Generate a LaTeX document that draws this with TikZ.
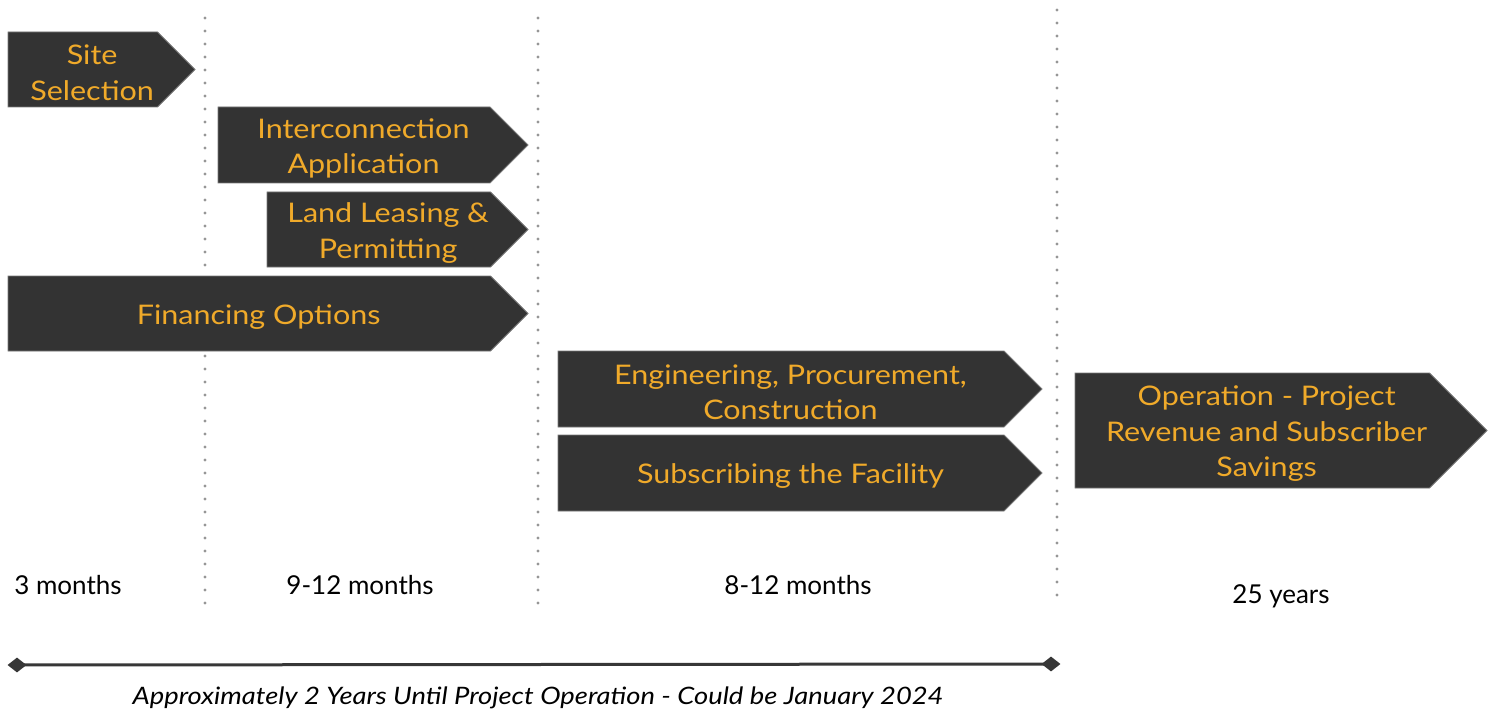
\documentclass[tikz,border=0pt]{standalone}
\usepackage{fontspec}
\setmainfont{Lato}
\newfontfamily\boxfont[FakeStretch=1.13]{Lato}
\newfontfamily\capfont[FakeStretch=1.14]{Lato}
\usetikzlibrary{shapes.geometric}
\definecolor{boxfill}{RGB}{51,51,51}
\definecolor{boxedge}{RGB}{120,120,120}
\definecolor{gold}{RGB}{240,170,42}
\definecolor{dotgray}{RGB}{150,150,150}
\definecolor{linedark}{RGB}{55,55,55}
\tikzset{
  phasebox/.style={fill=boxfill, draw=boxedge, line width=0.8pt, line join=miter},
  phasetext/.style={text=gold, align=center, inner sep=0pt, yshift=-3.5pt, font=\boxfont\fontsize{27}{35.5}\selectfont},
  dotline/.style={dotgray, line width=3.2pt, line cap=round, dash pattern=on 0pt off 13pt},
  durlabel/.style={text=black, inner sep=0pt, font=\fontsize{26}{30}\selectfont},
  endmark/.style={diamond, fill=linedark, inner sep=0pt, minimum width=19pt, minimum height=15pt},
}
\newcommand\phaseshape[6]{%
  \pgfmathsetmacro\hh{(#5-#3)/2}%
  \path[phasebox] (#2,#3) -- ({#4-\hh},#3) -- (#4,{#3+\hh}) -- ({#4-\hh},#5) -- (#2,#5) -- cycle;
  \node[phasetext] (#1) at ({(#2+#4-\hh/2)/2},{(#3+#5)/2}) {#6};
}
\begin{document}
\begin{tikzpicture}[x=1pt,y=-1pt]
\useasboundingbox (0,0) rectangle (1495,711);
% dotted dividers
\draw[dotline] (205,18) -- (205,615);
\draw[dotline] (538,18) -- (538,615);
\draw[dotline] (1057,10) -- (1057,608);
% phases
\phaseshape{site}{8}{32}{195}{107}{Site\\Selection}
\phaseshape{inter}{218}{107}{528}{183}{Interconnection\\Application}
\phaseshape{land}{267}{192}{528}{267}{Land Leasing \&\\Permitting}
\phaseshape{fin}{8}{276}{528}{351}{Financing Options}
\phaseshape{epc}{558}{351}{1042}{427}{Engineering, Procurement,\\Construction}
\phaseshape{sub}{558}{435}{1042}{511}{Subscribing the Facility}
\phaseshape{oper}{1075}{373}{1487}{488}{Operation - Project\\Revenue and Subscriber\\Savings}
% durations
\node[durlabel] (d1) at (68,585) {3 months};
\node[durlabel] (d2) at (360,585) {9-12 months};
\node[durlabel] (d3) at (798,585) {8-12 months};
\node[durlabel] (d4) at (1281,596) {25 years};
% timeline
\node[endmark] (tl) at (17,665) {};
\node[endmark] (tr) at (1051,664) {};
\draw[linedark, line width=3pt] (tl.center) -- (tr.center);
\node[inner sep=0pt, font=\capfont\fontsize{24}{28}\selectfont\itshape] (cap) at (538,697.5)
  {Approximately 2 Years Until Project Operation - Could be January 2024};
\end{tikzpicture}
\end{document}
